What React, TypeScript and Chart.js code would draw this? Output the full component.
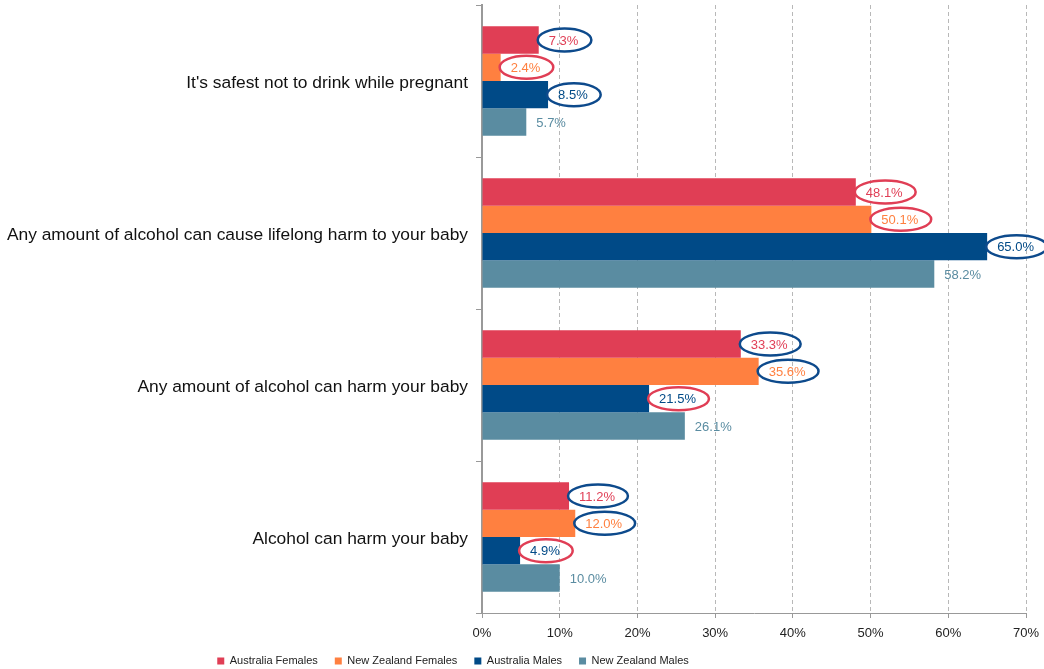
import React, { useEffect, useRef } from "react";
import { Chart, registerables } from "chart.js";

Chart.register(...registerables);

const categories = [
  "It's safest not to drink while pregnant",
  "Any amount of alcohol can cause lifelong harm to your baby",
  "Any amount of alcohol can harm your baby",
  "Alcohol can harm your baby",
];
const seriesNames = ["Australia Females", "New Zealand Females", "Australia Males", "New Zealand Males"];
const ausFemales = [7.3, 48.1, 33.3, 11.2];
const nzFemales = [2.4, 50.1, 35.6, 12.0];
const ausMales = [8.5, 65.0, 21.5, 4.9];
const nzMales = [5.7, 58.2, 26.1, 10.0];
// circle markers: "b" = blue ellipse, "r" = red ellipse, "" = none
const ausFemalesMark = ["b", "r", "b", "b"];
const nzFemalesMark = ["r", "r", "b", "b"];
const ausMalesMark = ["b", "b", "r", "r"];
const nzMalesMark = ["", "", "", ""];
const xTicks = [0, 10, 20, 30, 40, 50, 60, 70];

const colors = ["#E03E55", "#FF8040", "#004A87", "#5A8CA1"];
const ellipseColors: Record<string, string> = { b: "#0D4A8C", r: "#E03E55" };

const labelPlugin = {
  id: "labelPlugin",
  beforeDraw(chart: any) {
    const lg = chart.legend;
    if (lg) {
      lg.left = 0;
      lg.right = 906;
      lg.top = 662 - 17 - 6.6;
    }
  },
  afterDatasetsDraw(chart: any) {
    const ctx = chart.ctx;
    const marks = [ausFemalesMark, nzFemalesMark, ausMalesMark, nzMalesMark];
    ctx.save();
    ctx.font = "13px Arial, 'Liberation Sans', sans-serif";
    ctx.textBaseline = "middle";
    ctx.textAlign = "left";
    chart.data.datasets.forEach((ds: any, di: number) => {
      const meta = chart.getDatasetMeta(di);
      meta.data.forEach((bar: any, i: number) => {
        const v = ds.data[i];
        const txt = v.toFixed(1) + "%";
        const tx = bar.x + 10;
        const ty = bar.y + 1;
        const w = ctx.measureText(txt).width;
        ctx.fillStyle = colors[di];
        ctx.fillText(txt, tx, ty);
        const m = marks[di][i];
        if (m) {
          ctx.beginPath();
          ctx.strokeStyle = ellipseColors[m];
          ctx.lineWidth = 2.5;
          ctx.ellipse(tx + w / 2 + 1, bar.y, w / 2 + 12, 11.5, 0, 0, Math.PI * 2);
          ctx.stroke();
        }
      });
    });
    ctx.restore();
  },
};

export default function App() {
  const ref = useRef<HTMLCanvasElement>(null);
  useEffect(() => {
    document.body.style.margin = "0";
    const font = "Arial, 'Liberation Sans', sans-serif";
    const chart = new Chart(ref.current!, {
      type: "bar",
      data: {
        labels: categories,
        datasets: [ausFemales, nzFemales, ausMales, nzMales].map((d, i) => ({
          label: seriesNames[i],
          data: d,
          backgroundColor: colors[i],
          borderWidth: 0,
          barPercentage: 1,
          categoryPercentage: 0.72,
        })),
      },
      options: {
        indexAxis: "y",
        animation: false,
        responsive: false,
        layout: { padding: { top: 5, right: 18, left: 0, bottom: -14 } },
        plugins: {
          legend: {
            position: "bottom",
            labels: {
              boxWidth: 7,
              boxHeight: 7,
              padding: 17,
              color: "#222",
              font: { family: font, size: 11 },
            },
          },
          tooltip: { enabled: false },
        },
        scales: {
          x: {
            min: 0,
            max: 70,
            afterBuildTicks: (s: any) => {
              s.ticks = xTicks.map((v) => ({ value: v }));
            },
            afterFit: (s: any) => {
              s.height = 32;
              s.paddingLeft = 0;
              s.paddingRight = 0;
            },
            ticks: {
              callback: (v: any) => v + "%",
              color: "#222",
              font: { family: font, size: 13 },
              padding: 8,
            },
            grid: {
              color: "#B8B8B8",
              tickBorderDash: [],
              tickColor: "#999",
              tickLength: 5,
              lineWidth: 1,
            } as any,
            border: { color: "#999", width: 1, dash: [4, 3] },
          },
          y: {
            afterFit: (s: any) => {
              s.width = 482;
              s.paddingTop = 0;
              s.paddingBottom = 0;
            },
            ticks: {
              color: "#111",
              font: { family: font, size: 17.4 },
              padding: 8,
              labelOffset: 2,
            },
            grid: {
              drawOnChartArea: false,
              tickColor: "#999",
              tickLength: 6,
            },
            border: { color: "#999", width: 2 },
          },
        },
      } as any,
      plugins: [labelPlugin],
    });
    return () => chart.destroy();
  }, []);
  return <canvas ref={ref} width={1044} height={669} style={{ display: "block" }} />;
}
